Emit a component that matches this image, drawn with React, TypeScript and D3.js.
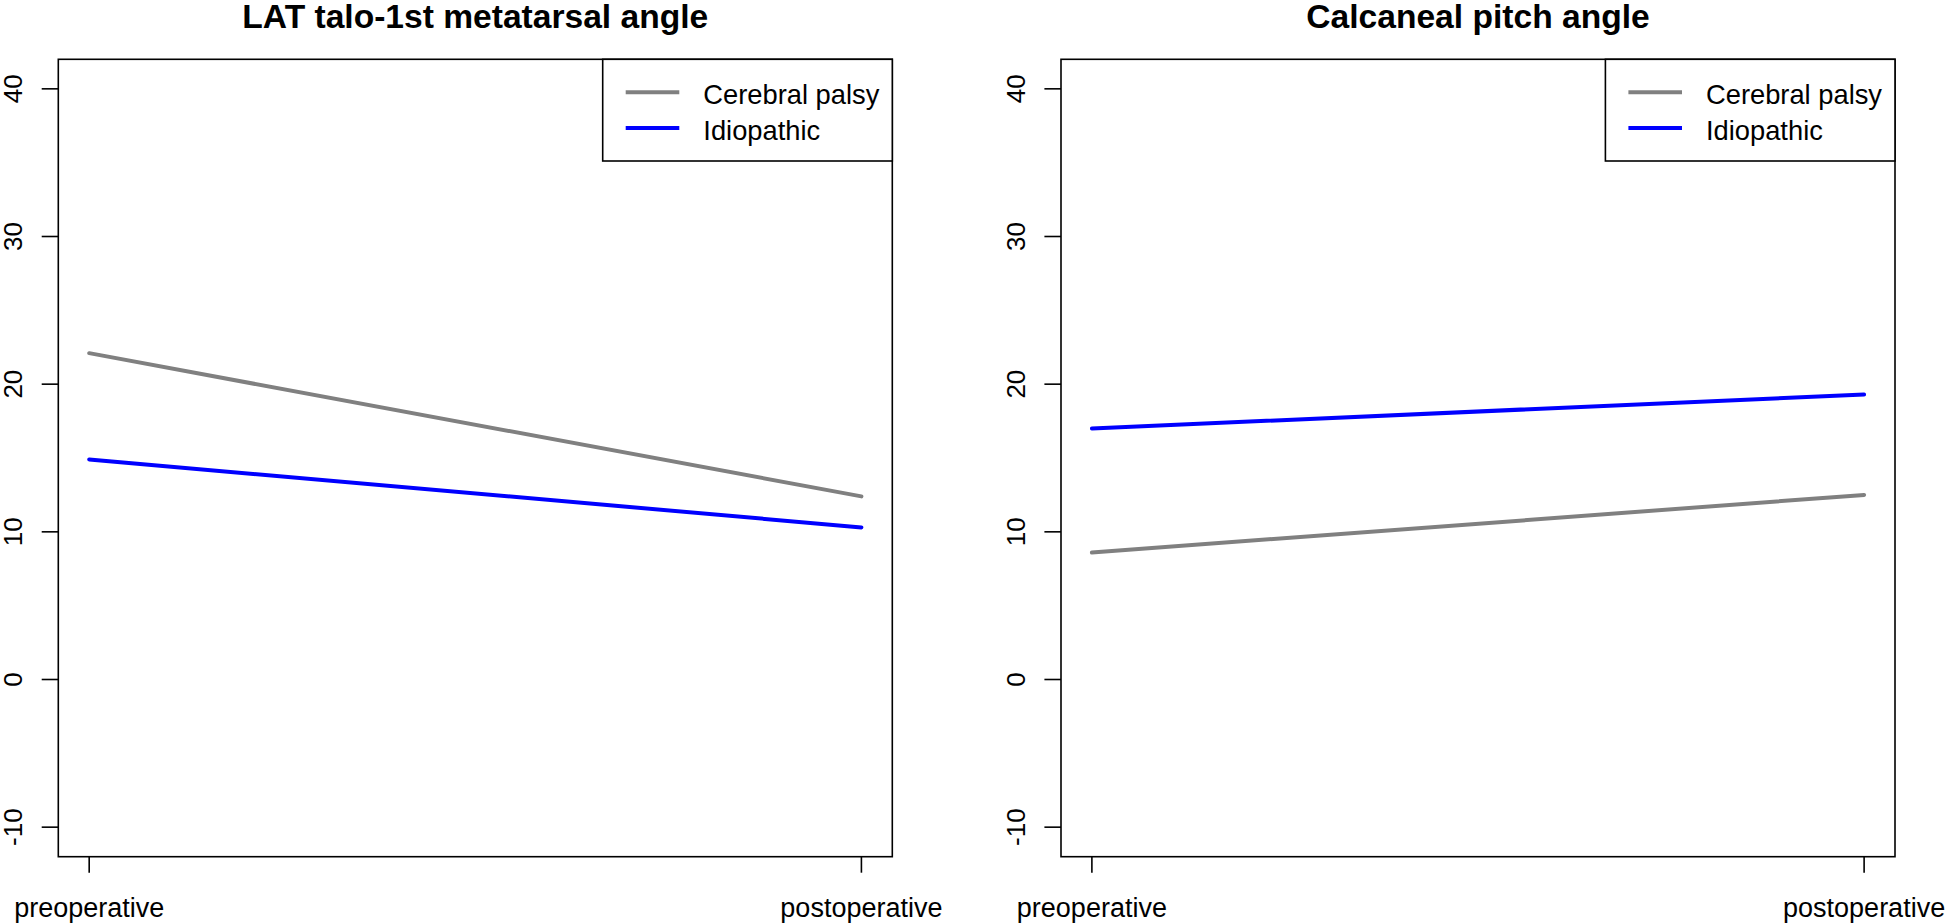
import React from "react";
import * as d3 from "d3";

const timepoints = ["preoperative", "postoperative"];
const seriesNames = ["Cerebral palsy", "Idiopathic"];
const seriesColors = ["#808080", "#0000FF"];
const yTicks = [-10, 0, 10, 20, 30, 40];

const panelTitles = ["LAT talo-1st metatarsal angle", "Calcaneal pitch angle"];
// values per panel: [cerebral palsy, idiopathic], each [pre, post]
const latCerebralPalsy = [22.1, 12.4];
const latIdiopathic = [14.9, 10.3];
const pitchCerebralPalsy = [8.6, 12.5];
const pitchIdiopathic = [17.0, 19.3];

const panelData = [
  [latCerebralPalsy, latIdiopathic],
  [pitchCerebralPalsy, pitchIdiopathic],
];

const W = 1946;
const H = 924;
const boxTop = 59.3;
const boxBottom = 856.7;
const panelLefts = [58.3, 1061];
const boxWidth = 834;
const FONT = "'Liberation Sans', Arial, Helvetica, sans-serif";
const fs = 27;

function Panel({ idx }: { idx: number }) {
  const left = panelLefts[idx];
  const right = left + boxWidth;
  const x = d3.scaleLinear().domain([0.96, 2.04]).range([left, right]);
  const y = d3.scaleLinear().domain([-12, 42]).range([boxBottom, boxTop]);
  const line = d3
    .line<number>()
    .x((_, i) => x(i + 1))
    .y((v) => y(v));
  const legW = 289.6;
  const legLeft = right - legW;
  const legBottom = 161;
  const legRows = [92.3, 128];
  return (
    <g>
      <text
        x={(left + right) / 2}
        y={28}
        textAnchor="middle"
        fontFamily={FONT}
        fontWeight="bold"
        fontSize={33.6}
      >
        {panelTitles[idx]}
      </text>
      {panelData[idx].map((vals, si) => (
        <path
          key={si}
          d={line(vals) || ""}
          fill="none"
          stroke={seriesColors[si]}
          strokeWidth={4}
          strokeLinecap="round"
        />
      ))}
      <rect
        x={left}
        y={boxTop}
        width={boxWidth}
        height={boxBottom - boxTop}
        fill="none"
        stroke="#000"
        strokeWidth={1.6}
      />
      {yTicks.map((t) => (
        <g key={t}>
          <line x1={left - 16.6} x2={left} y1={y(t)} y2={y(t)} stroke="#000" strokeWidth={1.6} />
          <text
            transform={`translate(${left - 36.5},${y(t)}) rotate(-90)`}
            textAnchor="middle"
            fontFamily={FONT}
            fontSize={26}
          >
            {t}
          </text>
        </g>
      ))}
      {timepoints.map((lab, i) => (
        <g key={lab}>
          <line x1={x(i + 1)} x2={x(i + 1)} y1={boxBottom} y2={boxBottom + 16} stroke="#000" strokeWidth={1.6} />
          <text x={x(i + 1)} y={917} textAnchor="middle" fontFamily={FONT} fontSize={fs}>
            {lab}
          </text>
        </g>
      ))}
      <rect
        x={legLeft}
        y={boxTop}
        width={legW}
        height={legBottom - boxTop}
        fill="#fff"
        stroke="#000"
        strokeWidth={1.6}
      />
      {seriesNames.map((nm, si) => (
        <g key={nm}>
          <line
            x1={legLeft + 23}
            x2={legLeft + 76.6}
            y1={legRows[si]}
            y2={legRows[si]}
            stroke={seriesColors[si]}
            strokeWidth={4}
          />
          <text x={legLeft + 100.6} y={legRows[si] + 12} fontFamily={FONT} fontSize={27.3}>
            {nm}
          </text>
        </g>
      ))}
    </g>
  );
}

export default function App() {
  return (
    <div style={{ position: "absolute", left: 0, top: 0 }}>
      <svg width={W} height={H} style={{ display: "block", background: "#fff" }}>
        <rect x={0} y={0} width={W} height={H} fill="#fff" />
        <Panel idx={0} />
        <Panel idx={1} />
      </svg>
    </div>
  );
}
